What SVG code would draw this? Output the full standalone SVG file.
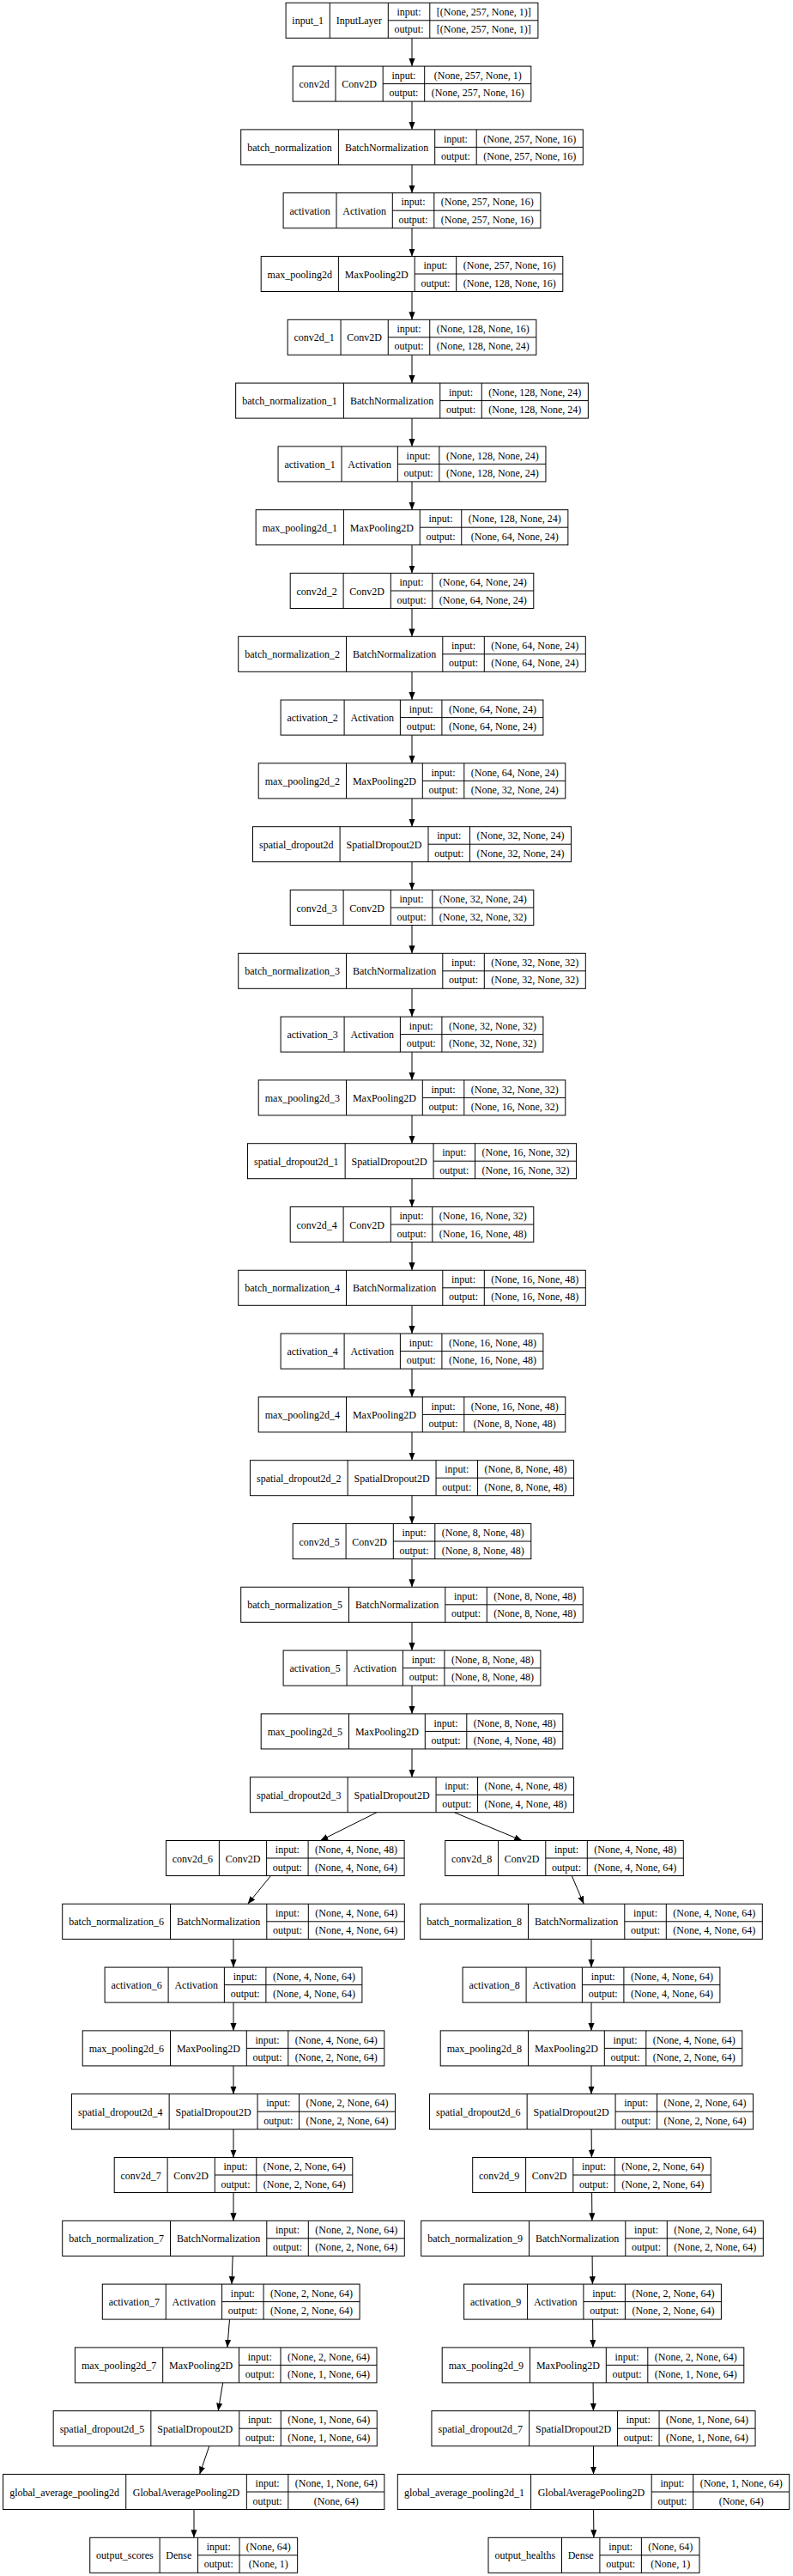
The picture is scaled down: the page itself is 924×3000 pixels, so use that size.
<svg xmlns="http://www.w3.org/2000/svg" width="924" height="3000" viewBox="0 0 924 3000">
<style>
.node rect{fill:#fff;stroke:#000;stroke-width:1}
.node path{fill:none;stroke:#000;stroke-width:1}
text{font-family:"Liberation Serif","Times New Roman",serif;font-size:12px;text-anchor:middle;fill:#000}
#edges line{stroke:#000;stroke-width:1;marker-end:url(#ah)}
</style>
<defs>
<marker id="ah" markerWidth="10" markerHeight="8" refX="9" refY="3.6" orient="auto" markerUnits="userSpaceOnUse"><path d="M0,0 L9,3.6 L0,7.2 z" fill="#000"/></marker>
</defs>
<rect width="924" height="3000" fill="#fff"/>
<g id="edges">
<line x1="480" y1="44.3" x2="480" y2="77.1"/>
<line x1="480" y1="118.1" x2="480" y2="150.9"/>
<line x1="480" y1="191.9" x2="480" y2="224.7"/>
<line x1="480" y1="265.7" x2="480" y2="298.5"/>
<line x1="480" y1="339.5" x2="480" y2="372.3"/>
<line x1="480" y1="413.3" x2="480" y2="446.1"/>
<line x1="480" y1="487.1" x2="480" y2="519.9"/>
<line x1="480" y1="560.9" x2="480" y2="593.7"/>
<line x1="480" y1="634.7" x2="480" y2="667.5"/>
<line x1="480" y1="708.5" x2="480" y2="741.3"/>
<line x1="480" y1="782.3" x2="480" y2="815.1"/>
<line x1="480" y1="856.1" x2="480" y2="888.9"/>
<line x1="480" y1="929.9" x2="480" y2="962.7"/>
<line x1="480" y1="1003.7" x2="480" y2="1036.5"/>
<line x1="480" y1="1077.5" x2="480" y2="1110.3"/>
<line x1="480" y1="1151.3" x2="480" y2="1184.1"/>
<line x1="480" y1="1225.1" x2="480" y2="1257.9"/>
<line x1="480" y1="1298.9" x2="480" y2="1331.7"/>
<line x1="480" y1="1372.7" x2="480" y2="1405.5"/>
<line x1="480" y1="1446.5" x2="480" y2="1479.3"/>
<line x1="480" y1="1520.3" x2="480" y2="1553.1"/>
<line x1="480" y1="1594.1" x2="480" y2="1626.9"/>
<line x1="480" y1="1667.9" x2="480" y2="1700.7"/>
<line x1="480" y1="1741.7" x2="480" y2="1774.5"/>
<line x1="480" y1="1815.5" x2="480" y2="1848.3"/>
<line x1="480" y1="1889.3" x2="480" y2="1922.1"/>
<line x1="480" y1="1963.1" x2="480" y2="1995.9"/>
<line x1="480" y1="2036.9" x2="480" y2="2069.7"/>
<line x1="439" y1="2110.7" x2="373.3" y2="2143.5"/>
<line x1="529.3" y1="2110.7" x2="608.2" y2="2143.5"/>
<line x1="315.55" y1="2184.5" x2="288.75" y2="2217.3"/>
<line x1="272" y1="2258.3" x2="272" y2="2291.1"/>
<line x1="272" y1="2332.1" x2="272" y2="2364.9"/>
<line x1="272" y1="2405.9" x2="272" y2="2438.7"/>
<line x1="272" y1="2479.7" x2="272" y2="2512.5"/>
<line x1="272" y1="2553.5" x2="272" y2="2586.3"/>
<line x1="271.2" y1="2627.3" x2="270" y2="2660.1"/>
<line x1="267.5" y1="2701.1" x2="264.9" y2="2733.9"/>
<line x1="259.7" y1="2774.9" x2="254.2" y2="2807.7"/>
<line x1="243.8" y1="2848.7" x2="232.6" y2="2881.5"/>
<line x1="226" y1="2922.5" x2="226" y2="2955.3"/>
<line x1="666.25" y1="2184.5" x2="680.25" y2="2217.3"/>
<line x1="689" y1="2258.3" x2="689" y2="2291.1"/>
<line x1="689" y1="2332.1" x2="689" y2="2364.9"/>
<line x1="689" y1="2405.9" x2="689" y2="2438.7"/>
<line x1="689.1" y1="2479.7" x2="689.4" y2="2512.5"/>
<line x1="689.6" y1="2553.5" x2="689.9" y2="2586.3"/>
<line x1="690.1" y1="2627.3" x2="690.4" y2="2660.1"/>
<line x1="690.6" y1="2701.1" x2="690.9" y2="2733.9"/>
<line x1="691.1" y1="2774.9" x2="691.4" y2="2807.7"/>
<line x1="691.5" y1="2848.7" x2="691.5" y2="2881.5"/>
<line x1="691.6" y1="2922.5" x2="691.9" y2="2955.3"/>
</g>

<g id="input_1" class="node" transform="translate(333.1,3.3)">
<rect width="293.8" height="41"/><path d="M51.2 0V41M119.2 0V41M167.7 0V41M119.2 20.5H293.8"/>
<text x="25.6" y="25">input_1</text><text x="85.2" y="25">InputLayer</text>
<text x="143.45" y="14.8">input:</text><text x="143.45" y="35">output:</text>
<text x="230.75" y="14.8">[(None, 257, None, 1)]</text><text x="230.75" y="35">[(None, 257, None, 1)]</text>
</g>
<g id="conv2d" class="node" transform="translate(341.2,77.1)">
<rect width="277.6" height="41"/><path d="M49.8 0V41M105 0V41M153.5 0V41M105 20.5H277.6"/>
<text x="24.9" y="25">conv2d</text><text x="77.4" y="25">Conv2D</text>
<text x="129.25" y="14.8">input:</text><text x="129.25" y="35">output:</text>
<text x="215.55" y="14.8">(None, 257, None, 1)</text><text x="215.55" y="35">(None, 257, None, 16)</text>
</g>
<g id="batch_normalization" class="node" transform="translate(280.7,150.9)">
<rect width="398.6" height="41"/><path d="M113.7 0V41M226 0V41M274.5 0V41M226 20.5H398.6"/>
<text x="56.85" y="25">batch_normalization</text><text x="169.85" y="25">BatchNormalization</text>
<text x="250.25" y="14.8">input:</text><text x="250.25" y="35">output:</text>
<text x="336.55" y="14.8">(None, 257, None, 16)</text><text x="336.55" y="35">(None, 257, None, 16)</text>
</g>
<g id="activation" class="node" transform="translate(330.1,224.7)">
<rect width="299.8" height="41"/><path d="M61.9 0V41M127.2 0V41M175.7 0V41M127.2 20.5H299.8"/>
<text x="30.95" y="25">activation</text><text x="94.55" y="25">Activation</text>
<text x="151.45" y="14.8">input:</text><text x="151.45" y="35">output:</text>
<text x="237.75" y="14.8">(None, 257, None, 16)</text><text x="237.75" y="35">(None, 257, None, 16)</text>
</g>
<g id="max_pooling2d" class="node" transform="translate(304.2,298.5)">
<rect width="351.6" height="41"/><path d="M90.2 0V41M179 0V41M227.5 0V41M179 20.5H351.6"/>
<text x="45.1" y="25">max_pooling2d</text><text x="134.6" y="25">MaxPooling2D</text>
<text x="203.25" y="14.8">input:</text><text x="203.25" y="35">output:</text>
<text x="289.55" y="14.8">(None, 257, None, 16)</text><text x="289.55" y="35">(None, 128, None, 16)</text>
</g>
<g id="conv2d_1" class="node" transform="translate(335.15,372.3)">
<rect width="289.7" height="41"/><path d="M61.9 0V41M117.1 0V41M165.6 0V41M117.1 20.5H289.7"/>
<text x="30.95" y="25">conv2d_1</text><text x="89.5" y="25">Conv2D</text>
<text x="141.35" y="14.8">input:</text><text x="141.35" y="35">output:</text>
<text x="227.65" y="14.8">(None, 128, None, 16)</text><text x="227.65" y="35">(None, 128, None, 24)</text>
</g>
<g id="batch_normalization_1" class="node" transform="translate(274.65,446.1)">
<rect width="410.7" height="41"/><path d="M125.8 0V41M238.1 0V41M286.6 0V41M238.1 20.5H410.7"/>
<text x="62.9" y="25">batch_normalization_1</text><text x="181.95" y="25">BatchNormalization</text>
<text x="262.35" y="14.8">input:</text><text x="262.35" y="35">output:</text>
<text x="348.65" y="14.8">(None, 128, None, 24)</text><text x="348.65" y="35">(None, 128, None, 24)</text>
</g>
<g id="activation_1" class="node" transform="translate(324.05,519.9)">
<rect width="311.9" height="41"/><path d="M74 0V41M139.3 0V41M187.8 0V41M139.3 20.5H311.9"/>
<text x="37" y="25">activation_1</text><text x="106.65" y="25">Activation</text>
<text x="163.55" y="14.8">input:</text><text x="163.55" y="35">output:</text>
<text x="249.85" y="14.8">(None, 128, None, 24)</text><text x="249.85" y="35">(None, 128, None, 24)</text>
</g>
<g id="max_pooling2d_1" class="node" transform="translate(298.15,593.7)">
<rect width="363.7" height="41"/><path d="M102.3 0V41M191.1 0V41M239.6 0V41M191.1 20.5H363.7"/>
<text x="51.15" y="25">max_pooling2d_1</text><text x="146.7" y="25">MaxPooling2D</text>
<text x="215.35" y="14.8">input:</text><text x="215.35" y="35">output:</text>
<text x="301.65" y="14.8">(None, 128, None, 24)</text><text x="301.65" y="35">(None, 64, None, 24)</text>
</g>
<g id="conv2d_2" class="node" transform="translate(338.2,667.5)">
<rect width="283.6" height="41"/><path d="M61.9 0V41M117.1 0V41M165.6 0V41M117.1 20.5H283.6"/>
<text x="30.95" y="25">conv2d_2</text><text x="89.5" y="25">Conv2D</text>
<text x="141.35" y="14.8">input:</text><text x="141.35" y="35">output:</text>
<text x="224.6" y="14.8">(None, 64, None, 24)</text><text x="224.6" y="35">(None, 64, None, 24)</text>
</g>
<g id="batch_normalization_2" class="node" transform="translate(277.7,741.3)">
<rect width="404.6" height="41"/><path d="M125.8 0V41M238.1 0V41M286.6 0V41M238.1 20.5H404.6"/>
<text x="62.9" y="25">batch_normalization_2</text><text x="181.95" y="25">BatchNormalization</text>
<text x="262.35" y="14.8">input:</text><text x="262.35" y="35">output:</text>
<text x="345.6" y="14.8">(None, 64, None, 24)</text><text x="345.6" y="35">(None, 64, None, 24)</text>
</g>
<g id="activation_2" class="node" transform="translate(327.1,815.1)">
<rect width="305.8" height="41"/><path d="M74 0V41M139.3 0V41M187.8 0V41M139.3 20.5H305.8"/>
<text x="37" y="25">activation_2</text><text x="106.65" y="25">Activation</text>
<text x="163.55" y="14.8">input:</text><text x="163.55" y="35">output:</text>
<text x="246.8" y="14.8">(None, 64, None, 24)</text><text x="246.8" y="35">(None, 64, None, 24)</text>
</g>
<g id="max_pooling2d_2" class="node" transform="translate(301.2,888.9)">
<rect width="357.6" height="41"/><path d="M102.3 0V41M191.1 0V41M239.6 0V41M191.1 20.5H357.6"/>
<text x="51.15" y="25">max_pooling2d_2</text><text x="146.7" y="25">MaxPooling2D</text>
<text x="215.35" y="14.8">input:</text><text x="215.35" y="35">output:</text>
<text x="298.6" y="14.8">(None, 64, None, 24)</text><text x="298.6" y="35">(None, 32, None, 24)</text>
</g>
<g id="spatial_dropout2d" class="node" transform="translate(294.5,962.7)">
<rect width="371" height="41"/><path d="M101.6 0V41M204.5 0V41M253 0V41M204.5 20.5H371"/>
<text x="50.8" y="25">spatial_dropout2d</text><text x="153.05" y="25">SpatialDropout2D</text>
<text x="228.75" y="14.8">input:</text><text x="228.75" y="35">output:</text>
<text x="312" y="14.8">(None, 32, None, 24)</text><text x="312" y="35">(None, 32, None, 24)</text>
</g>
<g id="conv2d_3" class="node" transform="translate(338.2,1036.5)">
<rect width="283.6" height="41"/><path d="M61.9 0V41M117.1 0V41M165.6 0V41M117.1 20.5H283.6"/>
<text x="30.95" y="25">conv2d_3</text><text x="89.5" y="25">Conv2D</text>
<text x="141.35" y="14.8">input:</text><text x="141.35" y="35">output:</text>
<text x="224.6" y="14.8">(None, 32, None, 24)</text><text x="224.6" y="35">(None, 32, None, 32)</text>
</g>
<g id="batch_normalization_3" class="node" transform="translate(277.7,1110.3)">
<rect width="404.6" height="41"/><path d="M125.8 0V41M238.1 0V41M286.6 0V41M238.1 20.5H404.6"/>
<text x="62.9" y="25">batch_normalization_3</text><text x="181.95" y="25">BatchNormalization</text>
<text x="262.35" y="14.8">input:</text><text x="262.35" y="35">output:</text>
<text x="345.6" y="14.8">(None, 32, None, 32)</text><text x="345.6" y="35">(None, 32, None, 32)</text>
</g>
<g id="activation_3" class="node" transform="translate(327.1,1184.1)">
<rect width="305.8" height="41"/><path d="M74 0V41M139.3 0V41M187.8 0V41M139.3 20.5H305.8"/>
<text x="37" y="25">activation_3</text><text x="106.65" y="25">Activation</text>
<text x="163.55" y="14.8">input:</text><text x="163.55" y="35">output:</text>
<text x="246.8" y="14.8">(None, 32, None, 32)</text><text x="246.8" y="35">(None, 32, None, 32)</text>
</g>
<g id="max_pooling2d_3" class="node" transform="translate(301.2,1257.9)">
<rect width="357.6" height="41"/><path d="M102.3 0V41M191.1 0V41M239.6 0V41M191.1 20.5H357.6"/>
<text x="51.15" y="25">max_pooling2d_3</text><text x="146.7" y="25">MaxPooling2D</text>
<text x="215.35" y="14.8">input:</text><text x="215.35" y="35">output:</text>
<text x="298.6" y="14.8">(None, 32, None, 32)</text><text x="298.6" y="35">(None, 16, None, 32)</text>
</g>
<g id="spatial_dropout2d_1" class="node" transform="translate(288.45,1331.7)">
<rect width="383.1" height="41"/><path d="M113.7 0V41M216.6 0V41M265.1 0V41M216.6 20.5H383.1"/>
<text x="56.85" y="25">spatial_dropout2d_1</text><text x="165.15" y="25">SpatialDropout2D</text>
<text x="240.85" y="14.8">input:</text><text x="240.85" y="35">output:</text>
<text x="324.1" y="14.8">(None, 16, None, 32)</text><text x="324.1" y="35">(None, 16, None, 32)</text>
</g>
<g id="conv2d_4" class="node" transform="translate(338.2,1405.5)">
<rect width="283.6" height="41"/><path d="M61.9 0V41M117.1 0V41M165.6 0V41M117.1 20.5H283.6"/>
<text x="30.95" y="25">conv2d_4</text><text x="89.5" y="25">Conv2D</text>
<text x="141.35" y="14.8">input:</text><text x="141.35" y="35">output:</text>
<text x="224.6" y="14.8">(None, 16, None, 32)</text><text x="224.6" y="35">(None, 16, None, 48)</text>
</g>
<g id="batch_normalization_4" class="node" transform="translate(277.7,1479.3)">
<rect width="404.6" height="41"/><path d="M125.8 0V41M238.1 0V41M286.6 0V41M238.1 20.5H404.6"/>
<text x="62.9" y="25">batch_normalization_4</text><text x="181.95" y="25">BatchNormalization</text>
<text x="262.35" y="14.8">input:</text><text x="262.35" y="35">output:</text>
<text x="345.6" y="14.8">(None, 16, None, 48)</text><text x="345.6" y="35">(None, 16, None, 48)</text>
</g>
<g id="activation_4" class="node" transform="translate(327.1,1553.1)">
<rect width="305.8" height="41"/><path d="M74 0V41M139.3 0V41M187.8 0V41M139.3 20.5H305.8"/>
<text x="37" y="25">activation_4</text><text x="106.65" y="25">Activation</text>
<text x="163.55" y="14.8">input:</text><text x="163.55" y="35">output:</text>
<text x="246.8" y="14.8">(None, 16, None, 48)</text><text x="246.8" y="35">(None, 16, None, 48)</text>
</g>
<g id="max_pooling2d_4" class="node" transform="translate(301.2,1626.9)">
<rect width="357.6" height="41"/><path d="M102.3 0V41M191.1 0V41M239.6 0V41M191.1 20.5H357.6"/>
<text x="51.15" y="25">max_pooling2d_4</text><text x="146.7" y="25">MaxPooling2D</text>
<text x="215.35" y="14.8">input:</text><text x="215.35" y="35">output:</text>
<text x="298.6" y="14.8">(None, 16, None, 48)</text><text x="298.6" y="35">(None, 8, None, 48)</text>
</g>
<g id="spatial_dropout2d_2" class="node" transform="translate(291.45,1700.7)">
<rect width="377.1" height="41"/><path d="M113.7 0V41M216.6 0V41M265.1 0V41M216.6 20.5H377.1"/>
<text x="56.85" y="25">spatial_dropout2d_2</text><text x="165.15" y="25">SpatialDropout2D</text>
<text x="240.85" y="14.8">input:</text><text x="240.85" y="35">output:</text>
<text x="321.1" y="14.8">(None, 8, None, 48)</text><text x="321.1" y="35">(None, 8, None, 48)</text>
</g>
<g id="conv2d_5" class="node" transform="translate(341.2,1774.5)">
<rect width="277.6" height="41"/><path d="M61.9 0V41M117.1 0V41M165.6 0V41M117.1 20.5H277.6"/>
<text x="30.95" y="25">conv2d_5</text><text x="89.5" y="25">Conv2D</text>
<text x="141.35" y="14.8">input:</text><text x="141.35" y="35">output:</text>
<text x="221.6" y="14.8">(None, 8, None, 48)</text><text x="221.6" y="35">(None, 8, None, 48)</text>
</g>
<g id="batch_normalization_5" class="node" transform="translate(280.7,1848.3)">
<rect width="398.6" height="41"/><path d="M125.8 0V41M238.1 0V41M286.6 0V41M238.1 20.5H398.6"/>
<text x="62.9" y="25">batch_normalization_5</text><text x="181.95" y="25">BatchNormalization</text>
<text x="262.35" y="14.8">input:</text><text x="262.35" y="35">output:</text>
<text x="342.6" y="14.8">(None, 8, None, 48)</text><text x="342.6" y="35">(None, 8, None, 48)</text>
</g>
<g id="activation_5" class="node" transform="translate(330.1,1922.1)">
<rect width="299.8" height="41"/><path d="M74 0V41M139.3 0V41M187.8 0V41M139.3 20.5H299.8"/>
<text x="37" y="25">activation_5</text><text x="106.65" y="25">Activation</text>
<text x="163.55" y="14.8">input:</text><text x="163.55" y="35">output:</text>
<text x="243.8" y="14.8">(None, 8, None, 48)</text><text x="243.8" y="35">(None, 8, None, 48)</text>
</g>
<g id="max_pooling2d_5" class="node" transform="translate(304.2,1995.9)">
<rect width="351.6" height="41"/><path d="M102.3 0V41M191.1 0V41M239.6 0V41M191.1 20.5H351.6"/>
<text x="51.15" y="25">max_pooling2d_5</text><text x="146.7" y="25">MaxPooling2D</text>
<text x="215.35" y="14.8">input:</text><text x="215.35" y="35">output:</text>
<text x="295.6" y="14.8">(None, 8, None, 48)</text><text x="295.6" y="35">(None, 4, None, 48)</text>
</g>
<g id="spatial_dropout2d_3" class="node" transform="translate(291.45,2069.7)">
<rect width="377.1" height="41"/><path d="M113.7 0V41M216.6 0V41M265.1 0V41M216.6 20.5H377.1"/>
<text x="56.85" y="25">spatial_dropout2d_3</text><text x="165.15" y="25">SpatialDropout2D</text>
<text x="240.85" y="14.8">input:</text><text x="240.85" y="35">output:</text>
<text x="321.1" y="14.8">(None, 4, None, 48)</text><text x="321.1" y="35">(None, 4, None, 48)</text>
</g>

<g id="conv2d_6" class="node" transform="translate(193.5,2143.5)">
<rect width="277.6" height="41"/><path d="M61.9 0V41M117.1 0V41M165.6 0V41M117.1 20.5H277.6"/>
<text x="30.95" y="25">conv2d_6</text><text x="89.5" y="25">Conv2D</text>
<text x="141.35" y="14.8">input:</text><text x="141.35" y="35">output:</text>
<text x="221.6" y="14.8">(None, 4, None, 48)</text><text x="221.6" y="35">(None, 4, None, 64)</text>
</g>
<g id="batch_normalization_6" class="node" transform="translate(72.7,2217.3)">
<rect width="398.6" height="41"/><path d="M125.8 0V41M238.1 0V41M286.6 0V41M238.1 20.5H398.6"/>
<text x="62.9" y="25">batch_normalization_6</text><text x="181.95" y="25">BatchNormalization</text>
<text x="262.35" y="14.8">input:</text><text x="262.35" y="35">output:</text>
<text x="342.6" y="14.8">(None, 4, None, 64)</text><text x="342.6" y="35">(None, 4, None, 64)</text>
</g>
<g id="activation_6" class="node" transform="translate(122.1,2291.1)">
<rect width="299.8" height="41"/><path d="M74 0V41M139.3 0V41M187.8 0V41M139.3 20.5H299.8"/>
<text x="37" y="25">activation_6</text><text x="106.65" y="25">Activation</text>
<text x="163.55" y="14.8">input:</text><text x="163.55" y="35">output:</text>
<text x="243.8" y="14.8">(None, 4, None, 64)</text><text x="243.8" y="35">(None, 4, None, 64)</text>
</g>
<g id="max_pooling2d_6" class="node" transform="translate(96.2,2364.9)">
<rect width="351.6" height="41"/><path d="M102.3 0V41M191.1 0V41M239.6 0V41M191.1 20.5H351.6"/>
<text x="51.15" y="25">max_pooling2d_6</text><text x="146.7" y="25">MaxPooling2D</text>
<text x="215.35" y="14.8">input:</text><text x="215.35" y="35">output:</text>
<text x="295.6" y="14.8">(None, 4, None, 64)</text><text x="295.6" y="35">(None, 2, None, 64)</text>
</g>
<g id="spatial_dropout2d_4" class="node" transform="translate(83.45,2438.7)">
<rect width="377.1" height="41"/><path d="M113.7 0V41M216.6 0V41M265.1 0V41M216.6 20.5H377.1"/>
<text x="56.85" y="25">spatial_dropout2d_4</text><text x="165.15" y="25">SpatialDropout2D</text>
<text x="240.85" y="14.8">input:</text><text x="240.85" y="35">output:</text>
<text x="321.1" y="14.8">(None, 2, None, 64)</text><text x="321.1" y="35">(None, 2, None, 64)</text>
</g>
<g id="conv2d_7" class="node" transform="translate(133.2,2512.5)">
<rect width="277.6" height="41"/><path d="M61.9 0V41M117.1 0V41M165.6 0V41M117.1 20.5H277.6"/>
<text x="30.95" y="25">conv2d_7</text><text x="89.5" y="25">Conv2D</text>
<text x="141.35" y="14.8">input:</text><text x="141.35" y="35">output:</text>
<text x="221.6" y="14.8">(None, 2, None, 64)</text><text x="221.6" y="35">(None, 2, None, 64)</text>
</g>
<g id="batch_normalization_7" class="node" transform="translate(72.7,2586.3)">
<rect width="398.6" height="41"/><path d="M125.8 0V41M238.1 0V41M286.6 0V41M238.1 20.5H398.6"/>
<text x="62.9" y="25">batch_normalization_7</text><text x="181.95" y="25">BatchNormalization</text>
<text x="262.35" y="14.8">input:</text><text x="262.35" y="35">output:</text>
<text x="342.6" y="14.8">(None, 2, None, 64)</text><text x="342.6" y="35">(None, 2, None, 64)</text>
</g>
<g id="activation_7" class="node" transform="translate(119.3,2660.1)">
<rect width="299.8" height="41"/><path d="M74 0V41M139.3 0V41M187.8 0V41M139.3 20.5H299.8"/>
<text x="37" y="25">activation_7</text><text x="106.65" y="25">Activation</text>
<text x="163.55" y="14.8">input:</text><text x="163.55" y="35">output:</text>
<text x="243.8" y="14.8">(None, 2, None, 64)</text><text x="243.8" y="35">(None, 2, None, 64)</text>
</g>
<g id="max_pooling2d_7" class="node" transform="translate(87.4,2733.9)">
<rect width="351.6" height="41"/><path d="M102.3 0V41M191.1 0V41M239.6 0V41M191.1 20.5H351.6"/>
<text x="51.15" y="25">max_pooling2d_7</text><text x="146.7" y="25">MaxPooling2D</text>
<text x="215.35" y="14.8">input:</text><text x="215.35" y="35">output:</text>
<text x="295.6" y="14.8">(None, 2, None, 64)</text><text x="295.6" y="35">(None, 1, None, 64)</text>
</g>
<g id="spatial_dropout2d_5" class="node" transform="translate(62.15,2807.7)">
<rect width="377.1" height="41"/><path d="M113.7 0V41M216.6 0V41M265.1 0V41M216.6 20.5H377.1"/>
<text x="56.85" y="25">spatial_dropout2d_5</text><text x="165.15" y="25">SpatialDropout2D</text>
<text x="240.85" y="14.8">input:</text><text x="240.85" y="35">output:</text>
<text x="321.1" y="14.8">(None, 1, None, 64)</text><text x="321.1" y="35">(None, 1, None, 64)</text>
</g>
<g id="global_average_pooling2d" class="node" transform="translate(3.55,2881.5)">
<rect width="444.3" height="41"/><path d="M143.2 0V41M283.8 0V41M332.3 0V41M283.8 20.5H444.3"/>
<text x="71.6" y="25">global_average_pooling2d</text><text x="213.5" y="25">GlobalAveragePooling2D</text>
<text x="308.05" y="14.8">input:</text><text x="308.05" y="35">output:</text>
<text x="388.3" y="14.8">(None, 1, None, 64)</text><text x="388.3" y="35">(None, 64)</text>
</g>
<g id="output_scores" class="node" transform="translate(104.75,2955.3)">
<rect width="241.9" height="41"/><path d="M81.4 0V41M125.8 0V41M174.3 0V41M125.8 20.5H241.9"/>
<text x="40.7" y="25">output_scores</text><text x="103.6" y="25">Dense</text>
<text x="150.05" y="14.8">input:</text><text x="150.05" y="35">output:</text>
<text x="208.1" y="14.8">(None, 64)</text><text x="208.1" y="35">(None, 1)</text>
</g>

<g id="conv2d_8" class="node" transform="translate(518.7,2143.5)">
<rect width="277.6" height="41"/><path d="M61.9 0V41M117.1 0V41M165.6 0V41M117.1 20.5H277.6"/>
<text x="30.95" y="25">conv2d_8</text><text x="89.5" y="25">Conv2D</text>
<text x="141.35" y="14.8">input:</text><text x="141.35" y="35">output:</text>
<text x="221.6" y="14.8">(None, 4, None, 48)</text><text x="221.6" y="35">(None, 4, None, 64)</text>
</g>
<g id="batch_normalization_8" class="node" transform="translate(489.7,2217.3)">
<rect width="398.6" height="41"/><path d="M125.8 0V41M238.1 0V41M286.6 0V41M238.1 20.5H398.6"/>
<text x="62.9" y="25">batch_normalization_8</text><text x="181.95" y="25">BatchNormalization</text>
<text x="262.35" y="14.8">input:</text><text x="262.35" y="35">output:</text>
<text x="342.6" y="14.8">(None, 4, None, 64)</text><text x="342.6" y="35">(None, 4, None, 64)</text>
</g>
<g id="activation_8" class="node" transform="translate(539.1,2291.1)">
<rect width="299.8" height="41"/><path d="M74 0V41M139.3 0V41M187.8 0V41M139.3 20.5H299.8"/>
<text x="37" y="25">activation_8</text><text x="106.65" y="25">Activation</text>
<text x="163.55" y="14.8">input:</text><text x="163.55" y="35">output:</text>
<text x="243.8" y="14.8">(None, 4, None, 64)</text><text x="243.8" y="35">(None, 4, None, 64)</text>
</g>
<g id="max_pooling2d_8" class="node" transform="translate(513.2,2364.9)">
<rect width="351.6" height="41"/><path d="M102.3 0V41M191.1 0V41M239.6 0V41M191.1 20.5H351.6"/>
<text x="51.15" y="25">max_pooling2d_8</text><text x="146.7" y="25">MaxPooling2D</text>
<text x="215.35" y="14.8">input:</text><text x="215.35" y="35">output:</text>
<text x="295.6" y="14.8">(None, 4, None, 64)</text><text x="295.6" y="35">(None, 2, None, 64)</text>
</g>
<g id="spatial_dropout2d_6" class="node" transform="translate(500.45,2438.7)">
<rect width="377.1" height="41"/><path d="M113.7 0V41M216.6 0V41M265.1 0V41M216.6 20.5H377.1"/>
<text x="56.85" y="25">spatial_dropout2d_6</text><text x="165.15" y="25">SpatialDropout2D</text>
<text x="240.85" y="14.8">input:</text><text x="240.85" y="35">output:</text>
<text x="321.1" y="14.8">(None, 2, None, 64)</text><text x="321.1" y="35">(None, 2, None, 64)</text>
</g>
<g id="conv2d_9" class="node" transform="translate(550.7,2512.5)">
<rect width="277.6" height="41"/><path d="M61.9 0V41M117.1 0V41M165.6 0V41M117.1 20.5H277.6"/>
<text x="30.95" y="25">conv2d_9</text><text x="89.5" y="25">Conv2D</text>
<text x="141.35" y="14.8">input:</text><text x="141.35" y="35">output:</text>
<text x="221.6" y="14.8">(None, 2, None, 64)</text><text x="221.6" y="35">(None, 2, None, 64)</text>
</g>
<g id="batch_normalization_9" class="node" transform="translate(490.7,2586.3)">
<rect width="398.6" height="41"/><path d="M125.8 0V41M238.1 0V41M286.6 0V41M238.1 20.5H398.6"/>
<text x="62.9" y="25">batch_normalization_9</text><text x="181.95" y="25">BatchNormalization</text>
<text x="262.35" y="14.8">input:</text><text x="262.35" y="35">output:</text>
<text x="342.6" y="14.8">(None, 2, None, 64)</text><text x="342.6" y="35">(None, 2, None, 64)</text>
</g>
<g id="activation_9" class="node" transform="translate(540.6,2660.1)">
<rect width="299.8" height="41"/><path d="M74 0V41M139.3 0V41M187.8 0V41M139.3 20.5H299.8"/>
<text x="37" y="25">activation_9</text><text x="106.65" y="25">Activation</text>
<text x="163.55" y="14.8">input:</text><text x="163.55" y="35">output:</text>
<text x="243.8" y="14.8">(None, 2, None, 64)</text><text x="243.8" y="35">(None, 2, None, 64)</text>
</g>
<g id="max_pooling2d_9" class="node" transform="translate(515.2,2733.9)">
<rect width="351.6" height="41"/><path d="M102.3 0V41M191.1 0V41M239.6 0V41M191.1 20.5H351.6"/>
<text x="51.15" y="25">max_pooling2d_9</text><text x="146.7" y="25">MaxPooling2D</text>
<text x="215.35" y="14.8">input:</text><text x="215.35" y="35">output:</text>
<text x="295.6" y="14.8">(None, 2, None, 64)</text><text x="295.6" y="35">(None, 1, None, 64)</text>
</g>
<g id="spatial_dropout2d_7" class="node" transform="translate(502.95,2807.7)">
<rect width="377.1" height="41"/><path d="M113.7 0V41M216.6 0V41M265.1 0V41M216.6 20.5H377.1"/>
<text x="56.85" y="25">spatial_dropout2d_7</text><text x="165.15" y="25">SpatialDropout2D</text>
<text x="240.85" y="14.8">input:</text><text x="240.85" y="35">output:</text>
<text x="321.1" y="14.8">(None, 1, None, 64)</text><text x="321.1" y="35">(None, 1, None, 64)</text>
</g>
<g id="global_average_pooling2d_1" class="node" transform="translate(463.3,2881.5)">
<rect width="456.4" height="41"/><path d="M155.3 0V41M295.9 0V41M344.4 0V41M295.9 20.5H456.4"/>
<text x="77.65" y="25">global_average_pooling2d_1</text><text x="225.6" y="25">GlobalAveragePooling2D</text>
<text x="320.15" y="14.8">input:</text><text x="320.15" y="35">output:</text>
<text x="400.4" y="14.8">(None, 1, None, 64)</text><text x="400.4" y="35">(None, 64)</text>
</g>
<g id="output_healths" class="node" transform="translate(569,2955.3)">
<rect width="246" height="41"/><path d="M85.5 0V41M129.9 0V41M178.4 0V41M129.9 20.5H246"/>
<text x="42.75" y="25">output_healths</text><text x="107.7" y="25">Dense</text>
<text x="154.15" y="14.8">input:</text><text x="154.15" y="35">output:</text>
<text x="212.2" y="14.8">(None, 64)</text><text x="212.2" y="35">(None, 1)</text>
</g>
</svg>
